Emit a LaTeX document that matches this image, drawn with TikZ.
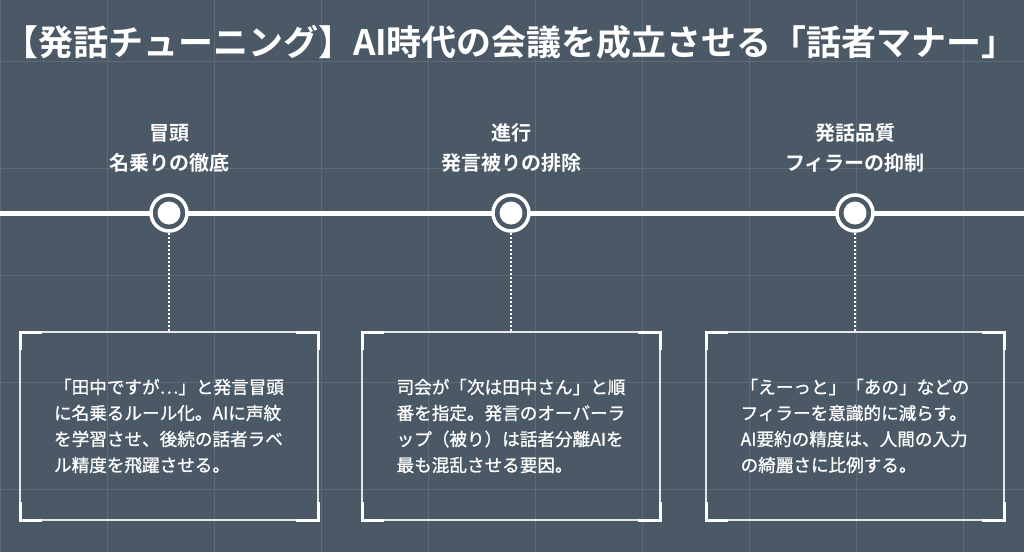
\documentclass[tikz,border=0pt]{standalone}
\usepackage{fontspec}
\newfontfamily\cjk[FakeBold=0.9]{Noto Sans CJK JP}
\newfontfamily\cjkb{Noto Sans CJK JP Bold}
\definecolor{bg}{HTML}{4B5967}
\definecolor{gridc}{HTML}{5D6B78}
\begin{document}
\begin{tikzpicture}[x=1pt,y=-1pt,
  lab/.style={text=white,font=\cjkb\fontsize{20}{30}\selectfont,align=center},
  body/.style={text=white,font=\cjk\fontsize{17.6}{26}\selectfont,align=left},
  box/.style={draw=white!85!bg,line width=1.2pt},
  corner/.style={white,line width=3pt}]
\fill[bg] (0,0) rectangle (1024,552);
\useasboundingbox (0,0) rectangle (1024,552);
\foreach \x in {0,107,214,321,428,535,642,749,856,963} \draw[gridc,line width=0.6pt] (\x,0)--(\x,552);
\foreach \y in {61,168,275,382,489} \draw[gridc,line width=0.6pt] (0,\y)--(1024,\y);
\node[text=white,font=\cjkb\fontsize{35}{38}\selectfont] (title) at (510,42) {【発話チューニング】AI時代の会議を成立させる「話者マナー」};
\draw[white,line width=5pt] (0,213)--(1024,213);
\foreach \i/\cx/\bx/\ta/\tb/\txt in {
 1/169/20/冒頭/名乗りの徹底/{「田中ですが…」と発言冒頭\\に名乗るルール化。AIに声紋\\を学習させ、後続の話者ラベ\\ル精度を飛躍させる。},
 2/511/362/進行/発言被りの排除/{司会が「次は田中さん」と順\\番を指定。発言のオーバーラ\\ップ（被り）は話者分離AIを\\最も混乱させる要因。},
 3/855/706/発話品質/フィラーの抑制/{「えーっと」「あの」などの\\フィラーを意識的に減らす。\\AI要約の精度は、人間の入力\\の綺麗さに比例する。}} {
  \node[lab] (h\i) at (\cx,148) {\ta\\\tb};
  \node[circle,fill=bg,draw=white,line width=3.5pt,minimum size=36pt,inner sep=0pt] (c\i) at (\cx,213) {};
  \fill[white] (c\i.center) circle (11.5);
  \coordinate (t\i) at (\cx,332);
  \draw[white,line width=1.5pt,dash pattern=on 2pt off 2pt] (c\i.south)--(t\i);
  \draw[box] (\bx,332) rectangle ++(298,188);
  \draw[corner] (\bx,350)--(\bx,332)--(\bx+22,332);
  \draw[corner] (\bx+276,332)--(\bx+298,332)--(\bx+298,350);
  \draw[corner] (\bx,502)--(\bx,520)--(\bx+22,520);
  \draw[corner] (\bx+276,520)--(\bx+298,520)--(\bx+298,502);
  \node[body] (b\i) at (\bx+149,426) {\txt};
}
\end{tikzpicture}
\end{document}
